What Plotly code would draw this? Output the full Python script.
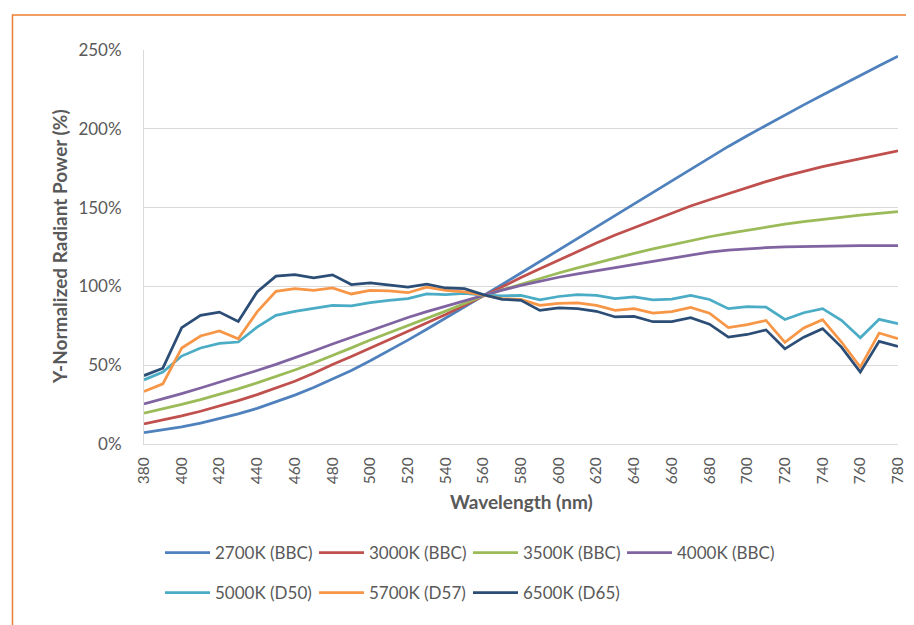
import plotly.graph_objects as go

wavelength = [380, 390, 400, 410, 420, 430, 440, 450, 460, 470, 480, 490, 500, 510, 520,
              530, 540, 550, 560, 570, 580, 590, 600, 610, 620, 630, 640, 650, 660, 670,
              680, 690, 700, 710, 720, 730, 740, 750, 760, 770, 780]

bbc_2700 = [7.2, 8.9, 10.9, 13.3, 16.0, 19.1, 22.6, 26.6, 31.0, 35.8, 41.0, 46.7, 52.8, 59.2, 65.9,
            72.8, 79.8, 86.9, 94.0, 101.2, 108.5, 115.8, 123.0, 130.3, 137.6, 145.0, 152.4, 159.8, 167.2, 174.6,
            181.8, 188.8, 195.6, 202.3, 208.8, 215.2, 221.5, 227.8, 234.0, 240.0, 246.0]
bbc_3000 = [12.7, 15.2, 17.9, 20.8, 24.0, 27.5, 31.3, 35.4, 39.8, 44.9, 50.5, 55.5, 60.8, 66.2, 71.6,
            77.0, 82.2, 88.0, 94.0, 99.8, 105.6, 111.2, 116.8, 122.2, 127.5, 132.6, 137.3, 142.0, 146.5, 151.0,
            155.0, 159.0, 163.0, 166.5, 170.0, 173.0, 176.0, 178.5, 181.0, 183.5, 186.0]
bbc_3500 = [19.5, 22.2, 25.1, 28.2, 31.5, 35.0, 38.8, 42.8, 47.0, 51.4, 56.0, 61.0, 66.0, 70.5, 75.0,
            79.5, 84.3, 89.2, 94.0, 97.8, 101.5, 105.1, 108.5, 111.8, 115.0, 118.1, 121.0, 123.8, 126.5, 129.1,
            131.5, 133.6, 135.6, 137.6, 139.5, 141.1, 142.6, 144.0, 145.2, 146.3, 147.4]
bbc_4000 = [25.4, 28.6, 32.0, 35.5, 39.1, 42.8, 46.6, 50.5, 54.6, 59.0, 63.5, 67.8, 72.0, 76.2, 80.3,
            84.0, 87.5, 91.0, 94.3, 97.6, 100.6, 103.4, 105.8, 108.0, 110.0, 112.0, 113.9, 115.7, 117.9, 120.1,
            121.8, 123.0, 124.0, 124.6, 125.1, 125.4, 125.7, 125.8, 125.9, 125.9, 125.9]
d50_5000 = [40.7, 45.6, 55.8, 60.9, 63.8, 64.7, 74.2, 81.6, 84.2, 85.9, 88.0, 87.6, 89.7, 91.2, 92.2,
            95.2, 94.8, 95.6, 94.5, 94.0, 94.3, 91.4, 93.6, 94.8, 94.3, 92.2, 93.3, 91.4, 92.0, 94.3,
            91.7, 85.9, 87.1, 86.9, 79.0, 83.3, 85.9, 78.5, 67.4, 79.1, 76.3]
d57_5700 = [33.3, 38.2, 60.9, 68.5, 71.7, 66.8, 83.8, 96.9, 98.6, 97.5, 99.0, 95.2, 97.5, 97.1, 96.0,
            99.5, 97.5, 96.5, 94.5, 92.2, 91.8, 88.0, 89.3, 89.5, 88.0, 84.8, 85.9, 83.0, 84.0, 86.6,
            83.0, 73.9, 75.8, 78.4, 64.5, 73.6, 78.9, 64.7, 48.8, 70.4, 66.8]
d65_6500 = [43.4, 48.1, 73.8, 81.6, 83.7, 77.8, 96.5, 106.5, 107.5, 105.4, 107.3, 101.2, 102.2, 101.0, 99.5,
            101.5, 99.0, 98.6, 94.8, 91.8, 91.2, 84.8, 86.3, 85.9, 84.2, 80.6, 81.0, 77.6, 77.6, 80.2,
            76.0, 67.8, 69.5, 72.4, 60.4, 67.8, 73.2, 61.5, 45.6, 65.1, 61.9]

series_names = ["2700K (BBC)", "3000K (BBC)", "3500K (BBC)", "4000K (BBC)",
                "5000K (D50)", "5700K (D57)", "6500K (D65)"]
series_values = [bbc_2700, bbc_3000, bbc_3500, bbc_4000, d50_5000, d57_5700, d65_6500]
series_colors = ["#4F81BD", "#C0504D", "#9BBB59", "#8064A2", "#4BACC6", "#F79646", "#2C4D75"]
series_legend = ["legend", "legend", "legend", "legend", "legend2", "legend2", "legend2"]

y_ticks = [0, 0.5, 1.0, 1.5, 2.0, 2.5]
x_ticks = [380, 400, 420, 440, 460, 480, 500, 520, 540, 560, 580, 600, 620, 640, 660, 680,
           700, 720, 740, 760, 780]

FONT = "Lato"
GRAY = "#595959"

fig = go.Figure()
for name, vals, col, lg in zip(series_names, series_values, series_colors, series_legend):
    fig.add_trace(go.Scatter(
        x=wavelength, y=[v / 100 for v in vals], name=name, mode="lines",
        line=dict(color=col, width=2.75), legend=lg))

W, H = 914, 625
L, R, T, B = 136, 24, 42, 189
pw, ph = W - L - R, H - T - B

def px(x):
    return (x - L) / pw

def py(y):
    return (H - B - y) / ph

legend_common = dict(orientation="h", xanchor="left", yanchor="middle",
                     entrywidth=94, entrywidthmode="pixels", itemwidth=45,
                     font=dict(family=FONT, size=17, color=GRAY),
                     bgcolor="rgba(0,0,0,0)")

fig.update_layout(
    width=W, height=H,
    margin=dict(l=L, r=R, t=T, b=B),
    paper_bgcolor="white", plot_bgcolor="white",
    font=dict(family=FONT, color=GRAY, size=17),
    xaxis=dict(range=[380, 780], tickvals=x_ticks, ticktext=[str(v) for v in x_ticks],
               tickangle=-90, showgrid=False, zeroline=False,
               showline=True, linecolor="#D9D9D9", linewidth=1,
               ticks="", ticklabelstandoff=6,
               tickfont=dict(family=FONT, size=15.5, color=GRAY)),
    yaxis=dict(range=[0, 2.5], tickvals=y_ticks, tickformat=".0%",
               showgrid=True, gridcolor="#D9D9D9", gridwidth=1, zeroline=False,
               showline=True, linecolor="#D9D9D9", linewidth=1,
               ticks="", ticklabelstandoff=18,
               tickfont=dict(family=FONT, size=17, color=GRAY)),
    legend=dict(legend_common, x=px(152), y=py(545)),
    legend2=dict(legend_common, x=px(152), y=py(585)),
    showlegend=True,
    annotations=[
        dict(text="<b>Y-Normalized Radiant Power (%)</b>", xref="paper", yref="paper",
             x=px(51), y=0.5, xanchor="center", yanchor="middle", textangle=-90,
             showarrow=False, font=dict(family=FONT, size=19, color=GRAY)),
        dict(text="<b>Wavelength (nm)</b>", xref="paper", yref="paper",
             x=0.5, y=py(493), xanchor="center", yanchor="middle",
             showarrow=False, font=dict(family=FONT, size=19, color=GRAY)),
    ],
    shapes=[dict(type="rect", xref="paper", yref="paper",
                 x0=px(4.5), x1=px(1000), y0=py(700), y1=py(7),
                 line=dict(color="#ED7D31", width=1.5), fillcolor="rgba(0,0,0,0)",
                 layer="below")],
)

fig.write_html("out.html")
